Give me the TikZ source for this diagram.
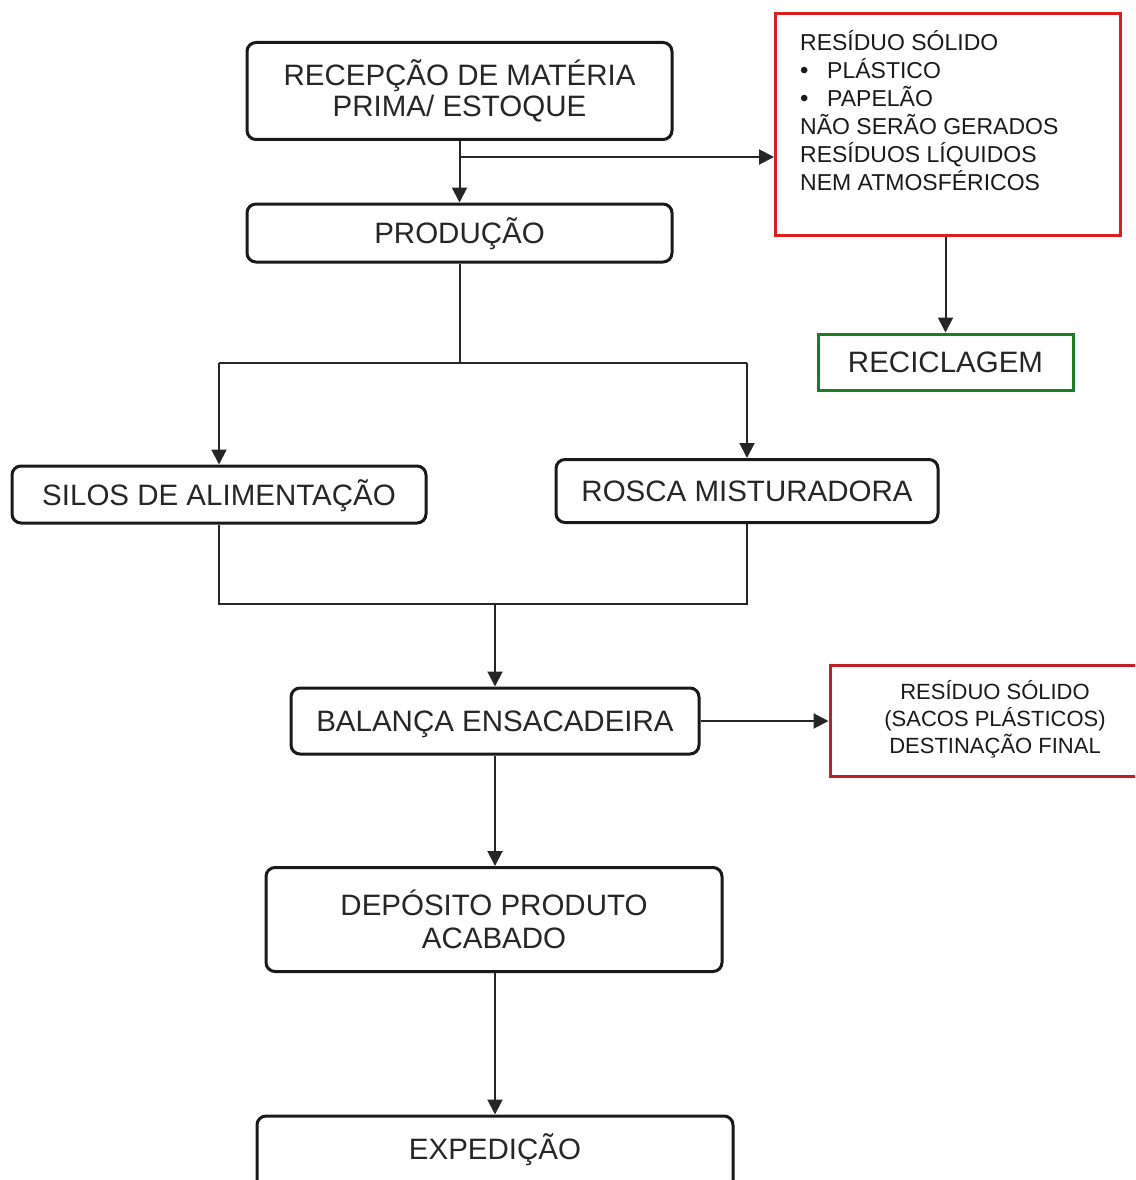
\documentclass[tikz,border=0pt]{standalone}
\usepackage{fontspec}
\setmainfont{Liberation Sans}
\usetikzlibrary{arrows.meta}
\definecolor{redA}{RGB}{220,30,35}
\definecolor{redB}{RGB}{195,30,40}
\definecolor{greenA}{RGB}{30,125,35}
\tikzset{
  procbox/.style={draw=black!90, line width=3pt, rounded corners=9pt, align=center,
    inner sep=0pt, font=\fontsize{29.5}{33}\selectfont, text=black!85},
  oneline/.style={text height=21.1pt, text depth=0pt},
  wastebox/.style={draw=redA, line width=3pt, inner sep=0pt},
  recbox/.style={draw=greenA, line width=3pt, inner sep=0pt, align=center,
    font=\fontsize{29.5}{33}\selectfont, text=black!85},
  conn/.style={line width=2pt, draw=black!85},
  arr/.style={conn, -{Triangle[width=15pt,length=15pt]}},
}
\begin{document}
\begin{tikzpicture}[x=1pt,y=-1pt]
\useasboundingbox (0,0) rectangle (1135,1180);
\clip (0,0) rectangle (1135,1180);
% process boxes
\node[procbox, minimum width=425pt, minimum height=97pt] (rec) at (459.5,91)
  {RECEPÇÃO DE MATÉRIA\\[-2pt]PRIMA/ ESTOQUE};
\node[procbox, oneline, minimum width=425pt, minimum height=58pt] (prod) at (459.5,233) {PRODUÇÃO};
\node[procbox, oneline, minimum width=414pt, minimum height=57pt] (silos) at (219,494.5) {SILOS DE ALIMENTAÇÃO};
\node[procbox, oneline, minimum width=382pt, minimum height=63pt] (rosca) at (747,491) {ROSCA MISTURADORA};
\node[procbox, oneline, minimum width=408pt, minimum height=66pt] (bal) at (495,721) {BALANÇA ENSACADEIRA};
\node[procbox, minimum width=456pt, minimum height=104pt] (dep) at (494,919.5)
  {DEPÓSITO PRODUTO\\[0pt]ACABADO};
\node[procbox, minimum width=476pt, minimum height=80pt] (exp) at (495,1156) {};
\node[oneline, font=\fontsize{29.5}{33}\selectfont, text=black!85, inner sep=0pt] (exptxt) at (495,1148.5) {EXPEDIÇÃO};
% waste boxes
\node[wastebox, minimum width=345pt, minimum height=221pt] (res1) at (948,124.5) {};
\node[anchor=north west, align=left, inner sep=0pt, text=black!90,
  font=\fontsize{23}{28}\selectfont] (res1txt) at (800,30)
  {RESÍDUO SÓLIDO\\
   \makebox[27pt][l]{\fontsize{24}{24}\selectfont •}PLÁSTICO\\
   \makebox[27pt][l]{\fontsize{24}{24}\selectfont •}PAPELÃO\\
   NÃO SERÃO GERADOS\\
   RESÍDUOS LÍQUIDOS\\
   NEM ATMOSFÉRICOS};
\node[recbox, oneline, minimum width=255pt, minimum height=56pt] (recic) at (945.5,362) {RECICLAGEM};
\node[wastebox, draw=redB, minimum width=330pt, minimum height=111pt] (res2) at (995,720.5) {};
\node[align=center, inner sep=0pt, text=black!90, font=\fontsize{22}{27}\selectfont]
  (res2txt) at (995,719) {RESÍDUO SÓLIDO\\(SACOS PLÁSTICOS)\\DESTINAÇÃO FINAL};
% junction coordinates
\coordinate (j1) at (rec.south |- 0,157);
\coordinate (j2) at (prod.south |- 0,363);
\coordinate (j2l) at (silos.north |- j2);
\coordinate (j2r) at (rosca.north |- j2);
\coordinate (j3l) at (silos.south |- 0,604);
\coordinate (j3r) at (rosca.south |- 0,604);
\coordinate (j3) at (bal.north |- j3l);
% connectors
\draw[arr] (rec.south) -- (prod.north);
\draw[arr] (j1) -- (res1.west |- j1);
\draw[arr] (res1.south -| recic.north) -- (recic.north);
\draw[conn] (prod.south) -- (j2);
\draw[conn] (j2l) -- (j2r);
\draw[arr] (j2l) -- (silos.north);
\draw[arr] (j2r) -- (rosca.north);
\draw[conn] (silos.south) -- (j3l) -- (j3r) -- (rosca.south);
\draw[arr] (j3) -- (bal.north);
\draw[arr] (bal.east) -- (res2.west |- bal.east);
\draw[arr] (bal.south -| j3) -- (dep.north -| j3);
\draw[arr] (dep.south -| j3) -- (exp.north -| j3);
\end{tikzpicture}
\end{document}
